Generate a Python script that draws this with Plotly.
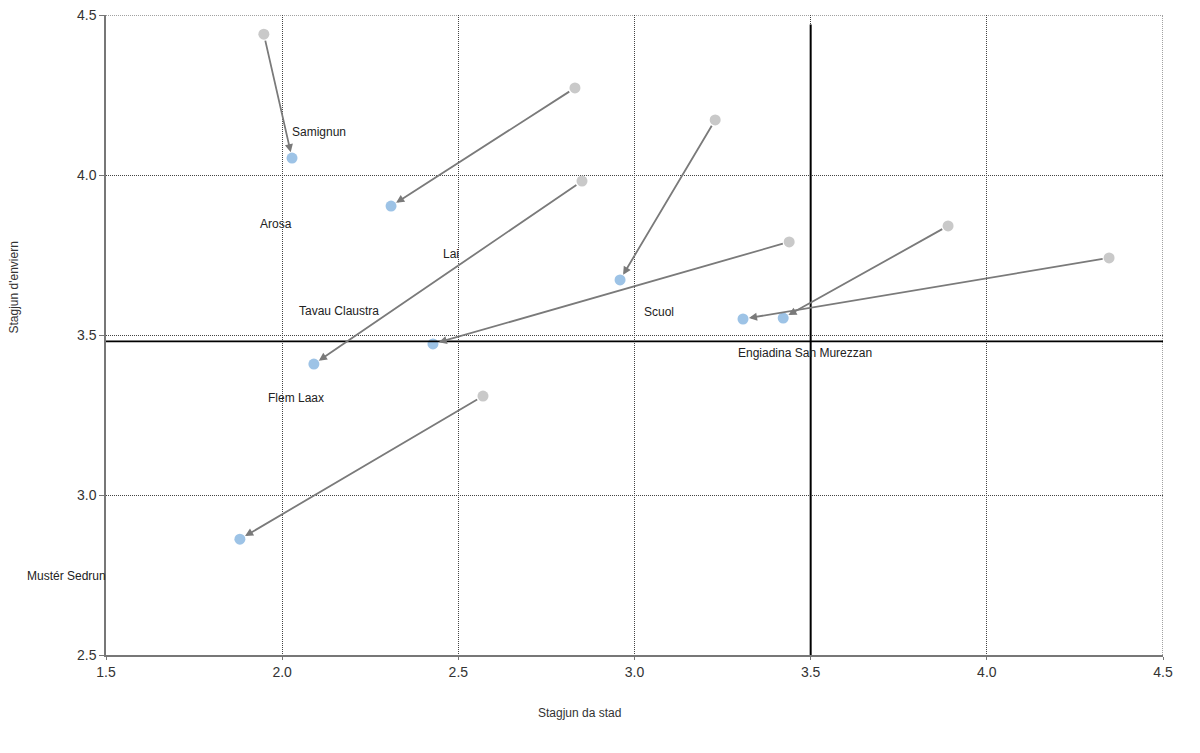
import plotly.graph_objects as go

# Start (grey) and end (blue) positions
start_x = [1.948, 2.831, 2.851, 3.229, 3.439, 3.890, 4.347, 2.570]
start_y = [4.440, 4.272, 3.981, 4.172, 3.791, 3.841, 3.741, 3.309]
end_x = [2.028, 2.309, 2.090, 2.959, 2.428, 3.422, 3.308, 1.880]
end_y = [4.053, 3.903, 3.409, 3.672, 3.472, 3.553, 3.550, 2.862]

labels = ["Samignun", "Arosa", "Lai", "Tavau Claustra", "Scuol",
          "Engiadina San Murezzan", "Flem Laax", "Mustér Sedrun"]
label_x = [2.105, 1.983, 2.479, 2.161, 3.070, 3.484, 2.039, 1.389]
label_y = [4.134, 3.847, 3.753, 3.575, 3.572, 3.444, 3.303, 2.747]

ref_x = 3.5
ref_y = 3.48

x_range = [1.5, 4.5]
y_range = [2.5, 4.5]
x_ticks = [1.5, 2.0, 2.5, 3.0, 3.5, 4.0, 4.5]
y_ticks = [2.5, 3.0, 3.5, 4.0, 4.5]

FONT = "Liberation Sans"
TXT = "#333333"

fig = go.Figure()

fig.add_trace(go.Scatter(x=start_x, y=start_y, mode="markers",
                         marker=dict(size=11, color="#c9c9c9"),
                         hoverinfo="skip", showlegend=False, cliponaxis=False))
fig.add_trace(go.Scatter(x=end_x, y=end_y, mode="markers",
                         marker=dict(size=11, color="#9dc3e6"),
                         hoverinfo="skip", showlegend=False, cliponaxis=False))


def to_paper_x(v):
    return (v - x_range[0]) / (x_range[1] - x_range[0])


def to_paper_y(v):
    return (v - y_range[0]) / (y_range[1] - y_range[0])


annotations = []
for sx, sy, ex, ey in zip(start_x, start_y, end_x, end_y):
    annotations.append(dict(x=ex, y=ey, ax=sx, ay=sy, xref="x", yref="y",
                            axref="x", ayref="y", showarrow=True, text="",
                            arrowhead=2, arrowsize=0.9, arrowwidth=1.8,
                            arrowcolor="#7a7a7a", standoff=6, startstandoff=5))
for t, lx, ly in zip(labels, label_x, label_y):
    annotations.append(dict(x=to_paper_x(lx), y=to_paper_y(ly), xref="paper", yref="paper",
                            xanchor="center", yanchor="middle",
                            text=t, showarrow=False,
                            font=dict(family=FONT, size=12, color="#222")))

annotations.append(dict(x=(579 - 106) / (1163 - 106), y=-(713 - 655) / 640, xref="paper",
                        yref="paper", text="Stagjun da stad", showarrow=False,
                        yanchor="middle", xanchor="center",
                        font=dict(family=FONT, size=12, color=TXT)))
annotations.append(dict(x=-0.0875, y=1 - (288 - 15) / 640, xref="paper", yref="paper",
                        text="Stagjun d'enviern", showarrow=False, textangle=-90,
                        xanchor="center", yanchor="middle",
                        font=dict(family=FONT, size=12, color=TXT)))

shapes = [
    # dotted frame at the top and right edges
    dict(type="line", xref="x", yref="y", x0=x_range[0], x1=x_range[1], y0=y_range[1], y1=y_range[1],
         line=dict(color="#444", width=1, dash="1px,1px")),
    dict(type="line", xref="x", yref="y", x0=x_range[1], x1=x_range[1], y0=y_range[0], y1=y_range[1],
         line=dict(color="#444", width=1, dash="1px,1px")),
    dict(type="line", xref="x", yref="y", x0=ref_x, x1=ref_x, y0=2.5, y1=4.47,
         line=dict(color="black", width=2)),
    dict(type="line", xref="x", yref="y", x0=1.5, x1=4.51, y0=ref_y, y1=ref_y,
         line=dict(color="black", width=1.8)),
]

axis_common = dict(showgrid=True, gridcolor="#444", griddash="1px,1px", gridwidth=1,
                   showline=True, linecolor="#777", linewidth=1.5,
                   ticks="outside", tickcolor="#777", automargin=False,
                   ticklabeloverflow="allow",
                   tickfont=dict(family=FONT, size=14, color=TXT), zeroline=False,
                   tickformat=".1f")

fig.update_layout(
    width=1200, height=753,
    margin=dict(l=98, r=45, t=7, b=106, autoexpand=False),
    paper_bgcolor="white", plot_bgcolor="white",
    annotations=annotations, shapes=shapes,
    xaxis=dict(range=x_range, tickvals=x_ticks, ticklen=3, **axis_common),
    yaxis=dict(range=y_range, tickvals=y_ticks, ticklen=5, **axis_common),
)

fig.write_html("out.html")
